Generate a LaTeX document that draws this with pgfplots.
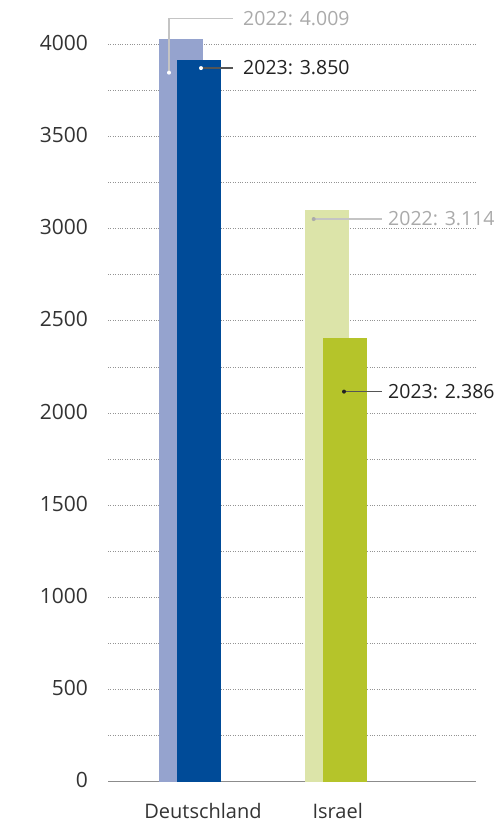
\documentclass[border=0pt]{standalone}
\usepackage{pgfplots}
\pgfplotsset{compat=1.18}
\usepackage{fontspec}
\setmainfont{Open Sans}
\definecolor{deA}{HTML}{95A3CE}
\definecolor{deB}{HTML}{004B98}
\definecolor{ilA}{HTML}{DCE4A9}
\definecolor{ilB}{HTML}{B5C42A}
\definecolor{txt}{HTML}{333333}
\definecolor{lbA}{HTML}{AAAAAA}
\definecolor{lnA}{HTML}{C4C4C4}
\definecolor{lbB}{HTML}{222222}
\definecolor{lnB}{HTML}{555555}
\newcommand{\fs}{\fontsize{19.5bp}{23bp}\selectfont}
\newcommand{\ft}{\fontsize{21bp}{25bp}\selectfont}
\newcommand{\fx}{\fontsize{20bp}{24bp}\selectfont}
\begin{document}
\begin{tikzpicture}[x=1bp,y=1bp]
\path[use as bounding box] (0,0) rectangle (496,824);
\begin{axis}[
  at={(108bp,42.3bp)}, anchor=south west,
  scale only axis, width=368bp, height=737.4bp,
  xmin=108, xmax=476, ymin=0, ymax=4000,
  clip=false,
  axis x line*=bottom, axis y line*=left,
  y axis line style={draw=none},
  x axis line style={draw=gray!90, line width=1bp},
  tick style={draw=none},
  ytick={0,500,...,4000},
  minor ytick={250,750,...,3750},
  ymajorgrids, yminorgrids,
  major grid style={draw=gray!85, line width=0.8bp, dash pattern=on 0.8bp off 1.6bp},
  minor grid style={draw=gray!85, line width=0.8bp, dash pattern=on 0.8bp off 1.6bp},
  xtick={203,337.7},
  xticklabels={Deutschland,Israel},
  /pgf/number format/assume math mode=true,
  /pgf/number format/1000 sep={},
  tick label style={text=txt, inner sep=0pt},
  yticklabel style={font=\ft, anchor=east, xshift=-20bp, yshift=1.5bp},
  xticklabel style={font=\fx, anchor=north, yshift=-21.3bp},
]
\addplot[ybar, bar width=44, bar shift=0pt, fill=deA, draw=none] coordinates {(181,4030)};
\addplot[ybar, bar width=44, bar shift=0pt, fill=deB, draw=none] coordinates {(199,3915)};
\addplot[ybar, bar width=44, bar shift=0pt, fill=ilA, draw=none] coordinates {(327,3101)};
\addplot[ybar, bar width=44, bar shift=0pt, fill=ilB, draw=none] coordinates {(345,2408)};

\draw[lnA, line width=1.3bp] (axis cs:169,3846) |- (axis cs:233,4139);
\fill[white] (axis cs:169,3846) circle (2bp);
\node[anchor=west, text=lbA, font=\fs, inner sep=0pt] at (axis cs:243,4139) {2022: 4.009};

\draw[lnB, line width=1.3bp] (axis cs:201,3871) -- (axis cs:233,3871);
\fill[white] (axis cs:201,3871) circle (2bp);
\node[anchor=west, text=lbB, font=\fs, inner sep=0pt] at (axis cs:243,3871) {2023: 3.850};

\draw[lnA, line width=1.3bp] (axis cs:313.7,3052) -- (axis cs:381.7,3052);
\fill[lbA] (axis cs:313.7,3052) circle (2bp);
\node[anchor=west, text=lbA, font=\fs, inner sep=0pt] at (axis cs:388,3052) {2022: 3.114};

\draw[lnB, line width=1.3bp] (axis cs:344,2116) -- (axis cs:382,2116);
\fill[lbB] (axis cs:344,2116) circle (2bp);
\node[anchor=west, text=lbB, font=\fs, inner sep=0pt] at (axis cs:388,2116) {2023: 2.386};
\end{axis}
\end{tikzpicture}
\end{document}
